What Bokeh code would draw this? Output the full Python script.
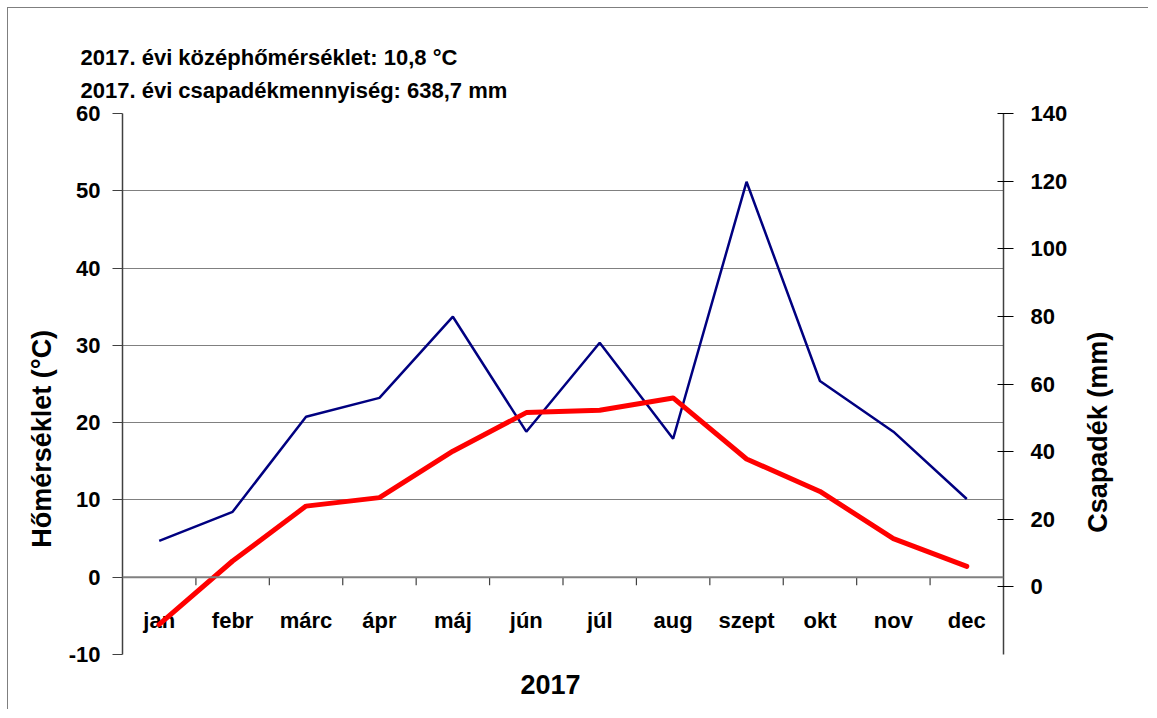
import numpy as np
from bokeh.plotting import figure
from bokeh.models import Range1d, LinearAxis, FixedTicker, Span, Title
from bokeh.core.properties import value
from bokeh.embed import file_html
from bokeh.resources import INLINE

months = ["jan", "febr", "márc", "ápr", "máj", "jún", "júl", "aug", "szept", "okt", "nov", "dec"]
temperature = [-6.1, 2.1, 9.2, 10.3, 16.3, 21.3, 21.6, 23.2, 15.3, 11.1, 5.0, 1.4]
precipitation = [13.6, 22.2, 50.3, 55.9, 79.9, 45.9, 72.2, 43.8, 119.8, 60.9, 45.9, 26.0]
temp_ticks = [-10, 0, 10, 20, 30, 40, 50, 60]
precip_ticks = [0, 20, 40, 60, 80, 100, 120, 140]
title_lines = ["2017. évi középhőmérséklet: 10,8 °C", "2017. évi csapadékmennyiség: 638,7 mm"]
y_title_left = "Hőmérséklet (°C)"
y_title_right = "Csapadék (mm)"
x_title = "2017"

FONT = "'Liberation Sans Narrow', 'Arial Narrow', 'Liberation Sans', Arial, sans-serif"

n = len(months)
centers = [i + 0.5 for i in range(n)]
bounds = list(range(1, n))

p = figure(width=1141, height=702, output_backend="svg", toolbar_location=None,
           x_range=Range1d(0, n), y_range=Range1d(-10, 60),
           min_border_left=114, min_border_right=146, min_border_top=105, min_border_bottom=56)
p.styles = {"margin-left": "7px", "margin-top": "7px",
            "border-left": "1px solid #7f7f7f", "border-top": "1px solid #7f7f7f"}
p.outline_line_color = None
p.xaxis.visible = False
p.xgrid.visible = False


def style_labels(ax, size):
    ax.major_label_text_font = FONT
    ax.major_label_text_font_style = "bold"
    ax.major_label_text_font_size = size
    ax.major_label_text_color = "black"


def bare(ax):
    ax.axis_line_color = None
    ax.major_tick_line_color = None
    ax.minor_tick_line_color = None
    ax.major_tick_in = 0
    ax.major_tick_out = 0


# left axis
ya = p.yaxis[0]
ya.ticker = FixedTicker(ticks=temp_ticks)
ya.major_label_overrides = {t: str(t) for t in temp_ticks}
ya.axis_line_color = "#404040"
ya.axis_line_width = 1.5
ya.major_tick_line_color = "#404040"
ya.major_tick_in = 0
ya.major_tick_out = 10
ya.minor_tick_line_color = None
style_labels(ya, "22px")
ya.major_label_standoff = 12

# left title as a rotated single tick label (text ends at the tick)
lt = LinearAxis(ticker=FixedTicker(ticks=[32]), major_label_overrides={32: y_title_left},
                major_label_orientation=np.pi / 2, major_label_standoff=23)
bare(lt)
style_labels(lt, "27px")
p.add_layout(lt, "left")

p.ygrid.ticker = FixedTicker(ticks=temp_ticks)
p.ygrid.grid_line_color = "black"
p.ygrid.grid_line_dash = "1 1"
p.ygrid.grid_line_width = 1

# right axis
p.extra_y_ranges = {"precip": Range1d(-20, 140)}
ra = LinearAxis(y_range_name="precip", ticker=FixedTicker(ticks=precip_ticks))
ra.axis_line_color = "#404040"
ra.axis_line_width = 1.5
ra.major_tick_line_color = "black"
ra.major_tick_in = 6
ra.major_tick_out = 10
ra.minor_tick_line_color = None
style_labels(ra, "22px")
ra.major_label_standoff = 17
p.add_layout(ra, "right")

# right title (text starts at the tick)
rt = LinearAxis(y_range_name="precip", ticker=FixedTicker(ticks=[16]),
                major_label_overrides={16: y_title_right},
                major_label_orientation=np.pi / 2, major_label_standoff=28)
bare(rt)
style_labels(rt, "27px")
p.add_layout(rt, "right")

# x title as a single tick label on a pixel-scaled range
p.extra_x_ranges = {"px": Range1d(122, 1003)}
xt = LinearAxis(x_range_name="px", ticker=FixedTicker(ticks=[550]),
                major_label_overrides={550: x_title}, major_label_standoff=20)
bare(xt)
style_labels(xt, "27px")
p.add_layout(xt, "below")

# x axis line at 0
p.add_layout(Span(location=0, dimension="width", line_color="#808080", line_width=2))
p.ray(x=bounds, y=[0] * len(bounds), length=8, length_units="screen", angle=-np.pi / 2,
      line_color="#404040", line_width=1.2)
p.text(x=centers, y=[0] * n, text=months, y_offset=43, text_align="center",
       text_baseline="alphabetic", text_font=value(FONT), text_font_style="bold",
       text_font_size="22px", text_color="black")

# series
p.line(centers, precipitation, y_range_name="precip", line_color="#000080", line_width=2.5)
p.line(centers, temperature, line_color="#FF0000", line_width=5, line_cap="round", line_join="round")

# top titles
p.title.text = title_lines[0]
p.title.align = "left"
p.title.offset = -42
p.title.standoff = -10
p.title.text_font = FONT
p.title.text_font_style = "bold"
p.title.text_font_size = "22px"
p.title.text_color = "black"
p.add_layout(Title(text=title_lines[1], align="left", offset=-42, standoff=22,
                   text_font=FONT, text_font_style="bold", text_font_size="22px",
                   text_color="black"), "above")

open("out.html", "w").write(file_html(p, INLINE))
